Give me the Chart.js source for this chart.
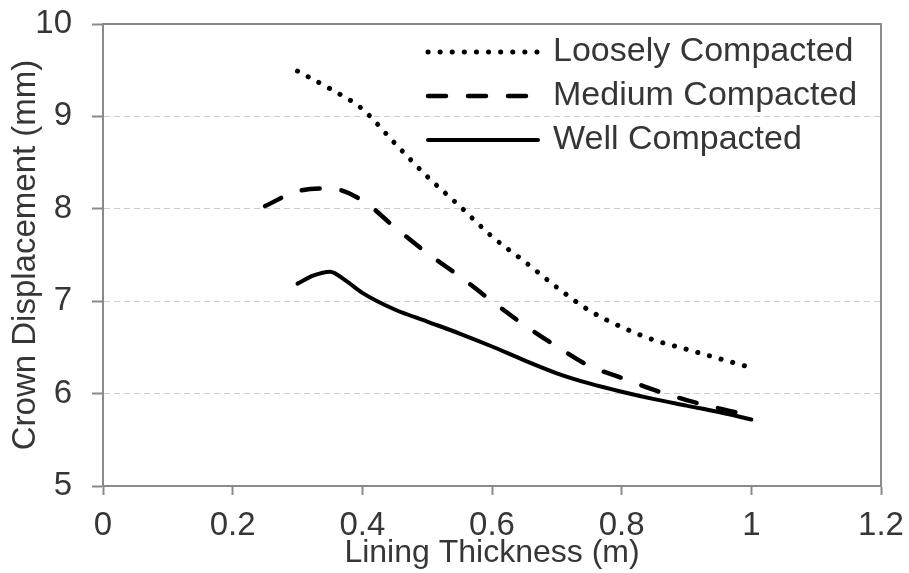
<!DOCTYPE html>
<html>
<head>
<meta charset="utf-8">
<script src="https://cdn.jsdelivr.net/npm/chart.js@4.4.1/dist/chart.umd.min.js"></script>
<style>
  html, body { margin: 0; padding: 0; background: #fff; }
  #wrap { width: 909px; height: 573px; }
</style>
</head>
<body>
<div id="wrap"><canvas id="chart" width="909" height="573"></canvas></div>
<script>
// crown displacement vs lining thickness, three compaction levels
const looseX = [0.30, 0.35, 0.40, 0.45, 0.50, 0.55, 0.60, 0.65, 0.70, 0.75, 0.80, 0.85, 0.90, 0.95, 1.00];
const looseY = [9.49, 9.30, 9.08, 8.71, 8.35, 8.03, 7.70, 7.43, 7.15, 6.90, 6.72, 6.58, 6.48, 6.38, 6.28];

const mediumX = [0.25, 0.30, 0.35, 0.40, 0.45, 0.50, 0.55, 0.60, 0.65, 0.70, 0.75, 0.80, 0.85, 0.90, 0.95, 1.00];
const mediumY = [8.03, 8.19, 8.22, 8.09, 7.80, 7.52, 7.27, 7.00, 6.74, 6.51, 6.30, 6.17, 6.04, 5.93, 5.84, 5.76];

const wellX = [0.30, 0.325, 0.35, 0.375, 0.40, 0.45, 0.50, 0.55, 0.60, 0.65, 0.70, 0.75, 0.80, 0.85, 0.90, 0.95, 1.00];
const wellY = [7.19, 7.28, 7.32, 7.22, 7.09, 6.91, 6.78, 6.65, 6.51, 6.36, 6.22, 6.11, 6.02, 5.94, 5.87, 5.80, 5.72];

const seriesNames = ["Loosely Compacted", "Medium Compacted", "Well Compacted"];
const xTicks = [0, 0.2, 0.4, 0.6, 0.8, 1, 1.2];
const yTicks = [5, 6, 7, 8, 9, 10];

const FONT = "'Liberation Sans', Arial, sans-serif";
const TEXT = "#363636";
const AXIS = "#8a8a8a";

function pts(xs, ys) {
  return xs.map((x, i) => ({ x: x, y: ys[i] }));
}

// ---------- legend drawn inside the plot, top right ----------
const legendInside = {
  id: "legendInside",
  afterDraw(chart) {
    const ctx = chart.ctx;
    const x0 = 428, x1 = 538, tx = 553;
    const rows = [52, 96, 140];
    chart.data.datasets.forEach((ds, i) => {
      const y = rows[i];
      ctx.save();
      ctx.strokeStyle = ds.borderColor;
      ctx.lineWidth = ds.borderWidth;
      ctx.lineCap = ds.borderCapStyle || "butt";
      ctx.setLineDash(ds.borderDash || []);
      ctx.beginPath();
      ctx.moveTo(x0, y);
      ctx.lineTo(x1, y);
      ctx.stroke();
      ctx.restore();

      ctx.save();
      ctx.fillStyle = TEXT;
      ctx.font = "34px " + FONT;
      ctx.textBaseline = "middle";
      ctx.textAlign = "left";
      ctx.fillText(ds.label, tx, y);
      ctx.restore();
    });
  }
};

// top and right edges of the plot box
const plotFrame = {
  id: "plotFrame",
  beforeDatasetsDraw(chart) {
    const { ctx, chartArea: a } = chart;
    ctx.save();
    ctx.strokeStyle = AXIS;
    ctx.lineWidth = 2;
    ctx.beginPath();
    ctx.moveTo(a.left, a.top);
    ctx.lineTo(a.right, a.top);
    ctx.lineTo(a.right, a.bottom);
    ctx.stroke();
    ctx.restore();
  }
};

const lineBase = {
  borderColor: "#000",
  pointRadius: 0,
  fill: false,
  cubicInterpolationMode: "monotone"
};

new Chart(document.getElementById("chart"), {
  type: "line",
  data: {
    datasets: [
      Object.assign({}, lineBase, {
        label: seriesNames[0],
        data: pts(looseX, looseY),
        borderWidth: 5,
        borderDash: [0.1, 12],
        borderCapStyle: "round"
      }),
      Object.assign({}, lineBase, {
        label: seriesNames[1],
        data: pts(mediumX, mediumY),
        borderWidth: 4.5,
        borderDash: [18, 22],
        borderCapStyle: "round"
      }),
      Object.assign({}, lineBase, {
        label: seriesNames[2],
        data: pts(wellX, wellY),
        borderWidth: 4,
        borderCapStyle: "round"
      })
    ]
  },
  options: {
    responsive: false,
    animation: false,
    layout: { padding: { left: 0, right: 28, top: 24, bottom: 0 } },
    plugins: {
      legend: { display: false },
      tooltip: { enabled: false }
    },
    scales: {
      x: {
        type: "linear",
        min: 0,
        max: 1.2,
        afterBuildTicks(scale) {
          scale.ticks = xTicks.map(v => ({ value: v }));
        },
        afterFit(scale) {
          scale.height = 87;
          scale.paddingLeft = 0;
          scale.paddingRight = 0;
        },
        grid: {
          drawOnChartArea: false,
          tickLength: 9,
          tickColor: AXIS,
          tickWidth: 2
        },
        border: { color: AXIS, width: 2 },
        ticks: {
          color: TEXT,
          font: { family: FONT, size: 33 },
          padding: 11,
          maxRotation: 0,
          callback: v => String(v)
        },
        title: {
          display: true,
          text: "Lining Thickness (m)",
          color: TEXT,
          font: { family: FONT, size: 32 },
          padding: { top: 0, bottom: 1 }
        }
      },
      y: {
        type: "linear",
        min: 5,
        max: 10,
        afterBuildTicks(scale) {
          scale.ticks = yTicks.map(v => ({ value: v }));
        },
        afterFit(scale) {
          scale.width = 103;
          scale.paddingTop = 0;
          scale.paddingBottom = 0;
        },
        grid: {
          color: ctx => (ctx.tick && (ctx.tick.value === 5 || ctx.tick.value === 10)) ? "rgba(0,0,0,0)" : "#cdcdcd",
          lineWidth: 1,
          tickLength: 11,
          tickColor: AXIS,
          tickWidth: 2
        },
        border: { color: AXIS, width: 2, dash: [6, 4] },
        ticks: {
          color: TEXT,
          font: { family: FONT, size: 33 },
          padding: 20
        },
        title: {
          display: true,
          text: "Crown Displacement (mm)",
          color: TEXT,
          font: { family: FONT, size: 33 },
          padding: { top: 6, bottom: 0 }
        }
      }
    }
  },
  plugins: [plotFrame, legendInside]
});
</script>
</body>
</html>
